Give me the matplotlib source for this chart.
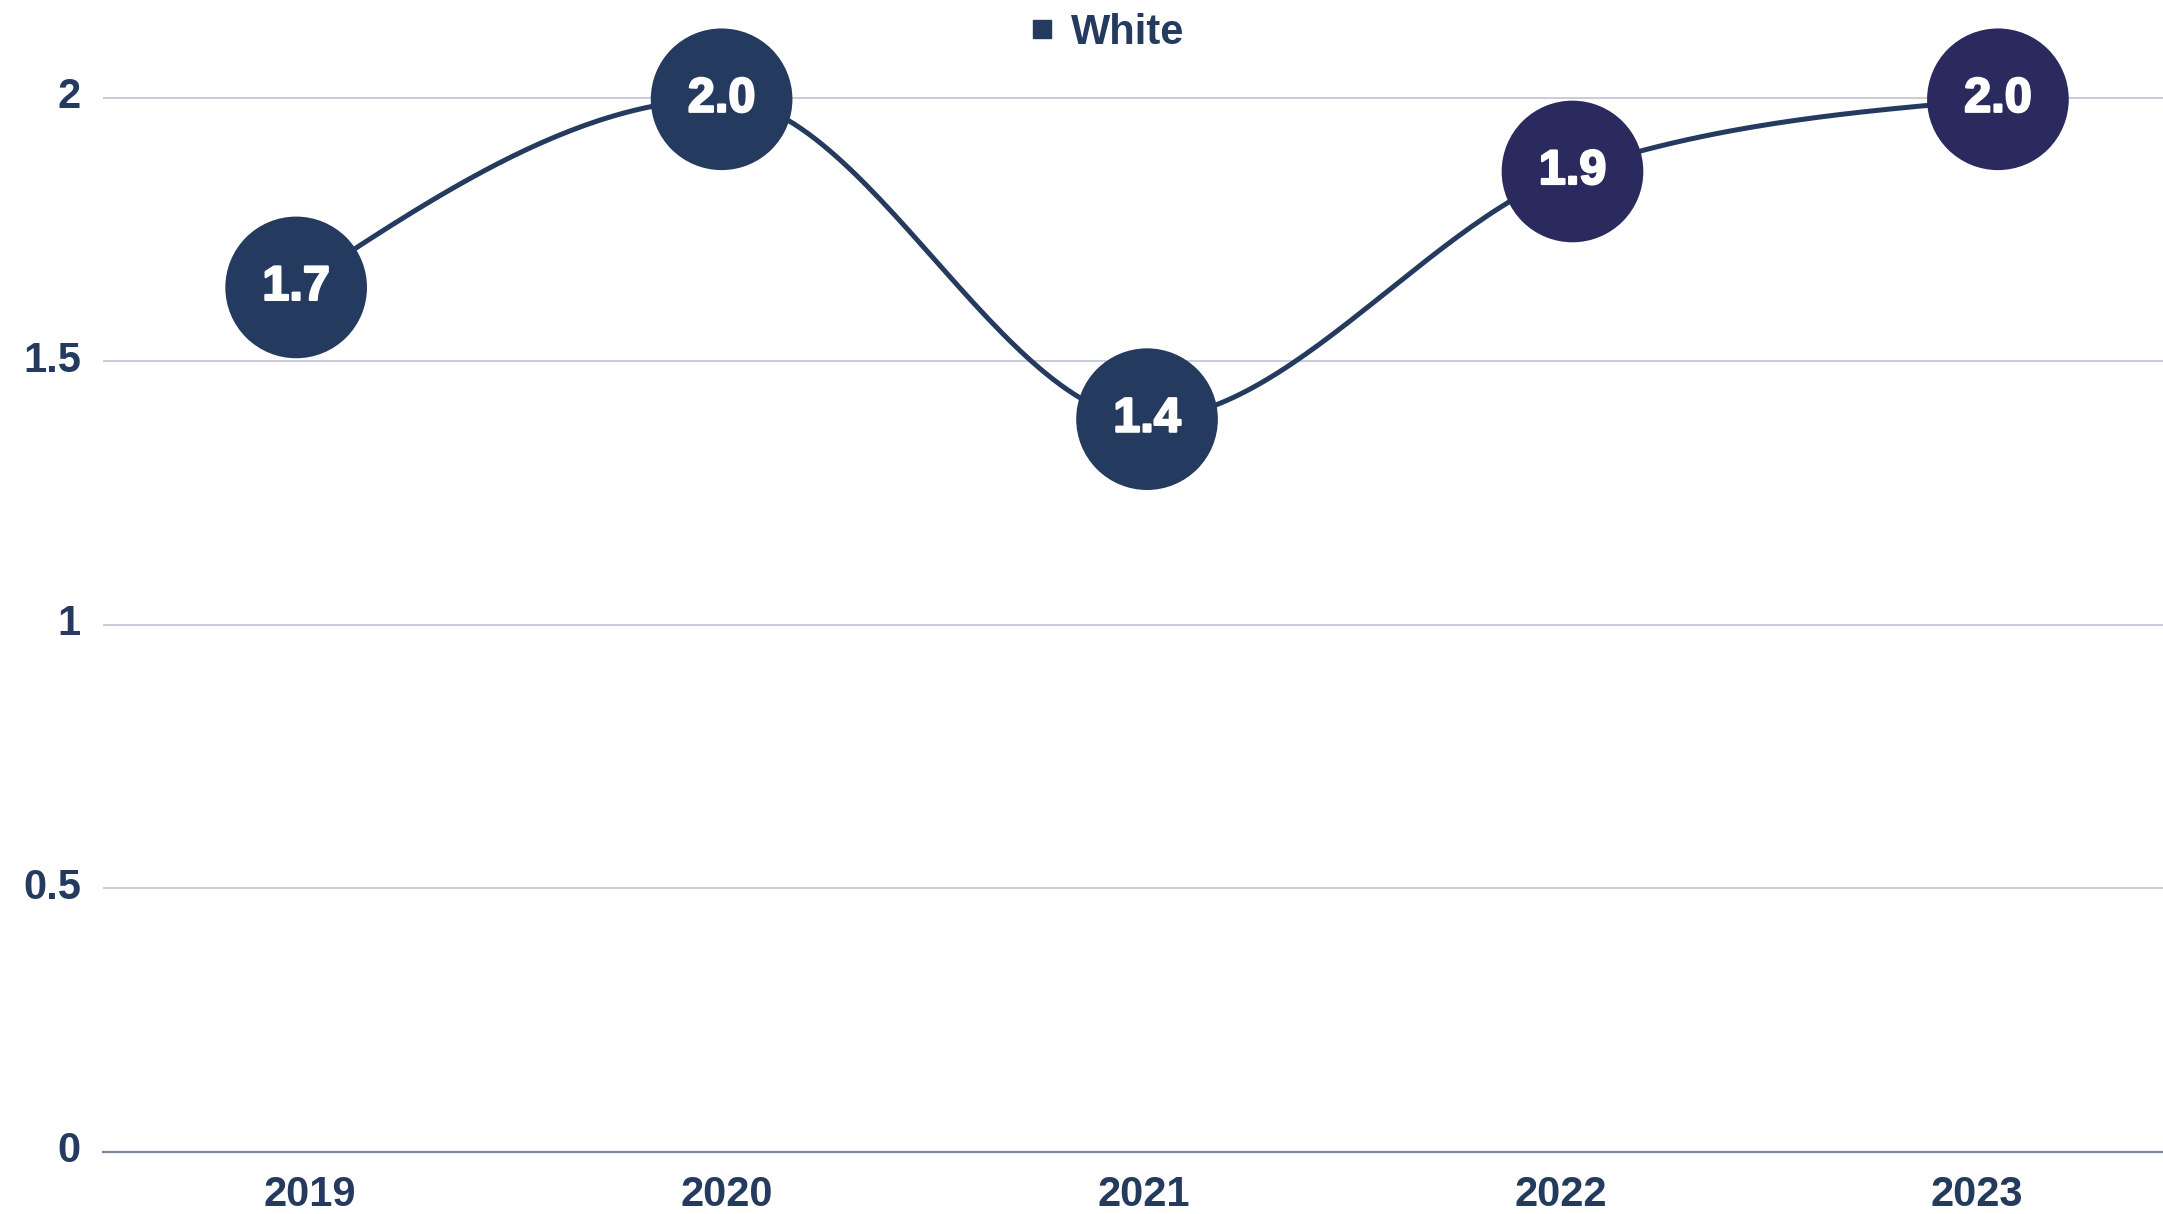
import numpy as np
import matplotlib
matplotlib.use("Agg")
import matplotlib.pyplot as plt
import matplotlib.transforms as mtrans
import matplotlib.patheffects as pe
from matplotlib.lines import Line2D

# ---- data ----
years = ["2019", "2020", "2021", "2022", "2023"]
values = [1.64, 1.997, 1.39, 1.86, 1.997]
value_labels = ["1.7", "2.0", "1.4", "1.9", "2.0"]
series_name = "White"
y_ticks = [0, 0.5, 1, 1.5, 2]
y_tick_labels = ["0", "0.5", "1", "1.5", "2"]

# ---- styles ----
NAVY = "#243a5e"
PURPLE = "#2a2a5e"
marker_colors = [NAVY, NAVY, NAVY, PURPLE, PURPLE]
GRID = "#c9ccd8"
BASE = "#7a889e"
FONT = "Liberation Sans"

W, H, DPI = 2163, 1214, 100
fig = plt.figure(figsize=(W / DPI, H / DPI), dpi=DPI)
fig.patch.set_facecolor("white")

left_px, bottom_px = 103, 1151.7
ax = fig.add_axes([left_px / W, (H - bottom_px) / H, 1 - left_px / W, bottom_px / H])
ax.set_facecolor("none")

# category axis (labels)
x = np.arange(len(years))
ax.set_xlim(-0.497, 4.446)
ax.set_ylim(0, bottom_px / 527.0)
ax.set_xticks(x)
ax.set_xticklabels(years)
ax.set_yticks(y_ticks)
ax.set_yticklabels(y_tick_labels)
ax.tick_params(axis="both", length=0, labelsize=30, labelcolor=NAVY)
ax.tick_params(axis="x", pad=17)
ax.tick_params(axis="y", pad=16)
up = mtrans.ScaledTranslation(0, 5 / DPI, fig.dpi_scale_trans)
for lab in ax.get_xticklabels() + ax.get_yticklabels():
    lab.set_fontfamily(FONT)
    lab.set_fontweight("bold")
for lab in ax.get_yticklabels():
    lab.set_transform(lab.get_transform() + up)
for s in ["top", "right", "left"]:
    ax.spines[s].set_visible(False)
ax.spines["bottom"].set_color(BASE)
ax.spines["bottom"].set_linewidth(1.6)
for yt in y_ticks[1:]:
    ax.axhline(yt, color=GRID, lw=1.4, zorder=0)

# series axis (point scale)
ax2 = ax.twiny()
ax2.set_xlim(-0.454, 4.388)
ax2.set_ylim(ax.get_ylim())
ax2.axis("off")


def monotone_curve(xs, ys, n=60):
    xs = np.asarray(xs, float)
    ys = np.asarray(ys, float)
    h = np.diff(xs)
    s = np.diff(ys) / h
    m = np.zeros_like(ys)
    for i in range(1, len(ys) - 1):
        s0, s1 = s[i - 1], s[i]
        p = (s0 * h[i] + s1 * h[i - 1]) / (h[i - 1] + h[i])
        m[i] = (np.sign(s0) + np.sign(s1)) * min(abs(s0), abs(s1), 0.5 * abs(p))
    m[0] = (3 * s[0] - m[1]) / 2
    m[-1] = (3 * s[-1] - m[-2]) / 2
    px, py = [], []
    for i in range(len(xs) - 1):
        t = np.linspace(0, 1, n)
        h00 = 2 * t**3 - 3 * t**2 + 1
        h10 = t**3 - 2 * t**2 + t
        h01 = -2 * t**3 + 3 * t**2
        h11 = t**3 - t**2
        px.append(xs[i] + t * h[i])
        py.append(h00 * ys[i] + h10 * h[i] * m[i] + h01 * ys[i + 1] + h11 * h[i] * m[i + 1])
    return np.concatenate(px), np.concatenate(py)


cx, cy = monotone_curve(x, values)
ax2.plot(cx, cy, color=NAVY, lw=3.6, zorder=2, solid_capstyle="round")
ax2.scatter(x, values, s=102**2, c=marker_colors, zorder=3, linewidths=0)
for xi, v, lab in zip(x, values, value_labels):
    ax2.text(xi, v, lab, ha="center", va="center", color="white", fontsize=35,
             fontweight="bold", fontfamily=FONT, zorder=4,
             path_effects=[pe.withStroke(linewidth=1.6, foreground="white")])

handle = Line2D([], [], marker="s", ls="", color=NAVY, markersize=13)
fig.legend([handle], [series_name], loc="center", bbox_to_anchor=(1105 / W, 1 - 33 / H),
           frameon=False, prop={"family": FONT, "weight": "bold", "size": 30},
           labelcolor=NAVY, handletextpad=0.3, handlelength=0.8, borderpad=0)

fig.savefig("out.png", dpi=DPI, facecolor="white")
